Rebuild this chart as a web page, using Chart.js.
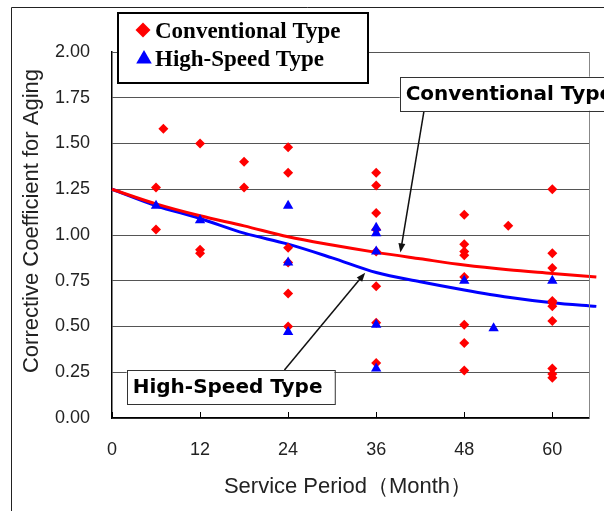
<!DOCTYPE html>
<html>
<head>
<meta charset="utf-8">
<script src="https://cdn.jsdelivr.net/npm/chart.js@4.4.1/dist/chart.umd.min.js"></script>
<style>
  html, body { margin: 0; padding: 0; background: #fff; }
  canvas { display: block; }
</style>
</head>
<body>
<canvas id="agingChart" width="604" height="511"></canvas>
<script>
const xTicks = [0, 12, 24, 36, 48, 60];
const yTicks = [0, 0.25, 0.5, 0.75, 1, 1.25, 1.5, 1.75, 2];

// measured points, conventional (red diamonds)
const convX = [6, 6, 7, 12, 12, 12, 18, 18,
  24, 24, 24, 24, 24, 24,
  36, 36, 36, 36, 36, 36, 36, 36,
  48, 48, 48, 48, 48, 48, 48, 48,
  54,
  60, 60, 60, 60, 60, 60, 60, 60, 60, 60];
const convY = [1.26, 1.03, 1.58, 1.50, 0.92, 0.90, 1.40, 1.26,
  1.48, 1.34, 0.93, 0.85, 0.68, 0.50,
  1.34, 1.27, 1.12, 1.03, 0.91, 0.72, 0.52, 0.30,
  1.11, 0.95, 0.91, 0.89, 0.77, 0.51, 0.41, 0.26,
  1.05,
  1.25, 0.90, 0.82, 0.64, 0.63, 0.61, 0.53, 0.27, 0.24, 0.22];

// high-speed (blue triangles)
const highX = [6, 12, 24, 24, 24, 36, 36, 36, 36, 36, 48, 52, 60];
const highY = [1.16, 1.08, 1.16, 0.85, 0.47, 1.04, 1.01, 0.91, 0.51, 0.27, 0.75, 0.49, 0.75];

// fitted curves
const curveX = [0, 6, 12, 18, 24, 30, 36, 42, 48, 54, 60, 66];
const convCurve = [1.25, 1.17, 1.105, 1.05, 0.99, 0.945, 0.905, 0.87, 0.836, 0.81, 0.79, 0.77];
const highCurve = [1.25, 1.16, 1.09, 1.01, 0.95, 0.875, 0.795, 0.745, 0.70, 0.66, 0.63, 0.61];

const seriesNames = ['Conventional Type', 'High-Speed Type'];
const xTitle = 'Service Period（Month）';
const yTitle = 'Corrective Coefficient for Aging';

// callout labels: box top-left, leader start, arrow tip (data units)
const callouts = [
  { text: 'Conventional Type', box: [39.2, 1.865], tail: [42.5, 1.674], head: [39.3, 0.905] },
  { text: 'High-Speed Type', box: [2.0, 0.262], tail: [23.5, 0.262], head: [34.5, 0.794] }
];

const RED = '#ff0000';
const BLUE = '#0000ff';

function toPoints(xs, ys) {
  return xs.map((x, i) => ({ x: x, y: ys[i] }));
}

function marker(ctx, style, radius, x, y, color) {
  ctx.save();
  ctx.fillStyle = color;
  ctx.strokeStyle = color;
  if (Chart.helpers && Chart.helpers.drawPoint) {
    Chart.helpers.drawPoint(ctx, { pointStyle: style, radius: radius, rotation: 0, borderWidth: 0 }, x, y);
  }
  ctx.restore();
}

function arrow(ctx, x1, y1, x2, y2) {
  const ang = Math.atan2(y2 - y1, x2 - x1);
  const len = 9, half = 3.5;
  ctx.beginPath();
  ctx.moveTo(x1, y1);
  ctx.lineTo(x2 - Math.cos(ang) * len * 0.8, y2 - Math.sin(ang) * len * 0.8);
  ctx.stroke();
  ctx.beginPath();
  ctx.moveTo(x2, y2);
  ctx.lineTo(x2 - Math.cos(ang) * len - Math.sin(ang) * half, y2 - Math.sin(ang) * len + Math.cos(ang) * half);
  ctx.lineTo(x2 - Math.cos(ang) * len + Math.sin(ang) * half, y2 - Math.sin(ang) * len - Math.cos(ang) * half);
  ctx.closePath();
  ctx.fill();
}

const decor = {
  id: 'decor',
  beforeDraw(chart) {
    const ctx = chart.ctx;
    ctx.save();
    ctx.fillStyle = '#fff';
    ctx.fillRect(0, 0, chart.width, chart.height);
    ctx.restore();
  },
  afterDraw(chart) {
    const ctx = chart.ctx;
    const area = chart.chartArea;
    const sx = chart.scales.x, sy = chart.scales.y;
    ctx.save();

    // outer frame (left + top)
    ctx.strokeStyle = '#222';
    ctx.lineWidth = 1;
    ctx.beginPath();
    ctx.moveTo(11.5, chart.height);
    ctx.lineTo(11.5, 7.5);
    ctx.lineTo(chart.width, 7.5);
    ctx.stroke();

    // right edge of plot
    ctx.strokeStyle = '#888';
    ctx.beginPath();
    ctx.moveTo(area.right + 0.5, area.top);
    ctx.lineTo(area.right + 0.5, area.bottom);
    ctx.stroke();

    // inward ticks on the x axis
    ctx.strokeStyle = '#000';
    xTicks.forEach(v => {
      const px = Math.round(sx.getPixelForValue(v)) + 0.5;
      ctx.beginPath();
      ctx.moveTo(px, area.bottom);
      ctx.lineTo(px, area.bottom - 6);
      ctx.stroke();
    });

    // legend box
    ctx.fillStyle = '#fff';
    ctx.fillRect(117, 12, 252, 72);
    ctx.strokeStyle = '#000';
    ctx.lineWidth = 2;
    ctx.strokeRect(118, 13, 250, 70);
    const ds = chart.data.datasets;
    marker(ctx, ds[0].pointStyle, 7.5, 143, 30, ds[0].backgroundColor);
    marker(ctx, ds[1].pointStyle, 9, 144, 59, ds[1].backgroundColor);
    ctx.fillStyle = '#000';
    ctx.font = 'bold 23px "Liberation Serif", serif';
    ctx.textBaseline = 'alphabetic';
    ctx.textAlign = 'left';
    ctx.fillText(seriesNames[0], 155, 37.5);
    ctx.fillText(seriesNames[1], 155, 65.5);

    // callouts
    ctx.font = 'bold 20px "DejaVu Sans", sans-serif';
    callouts.forEach(c => {
      const bx = sx.getPixelForValue(c.box[0]);
      const by = sy.getPixelForValue(c.box[1]);
      const w = ctx.measureText(c.text).width + 18;
      const h = 34;
      ctx.lineWidth = 1.5;
      ctx.strokeStyle = '#111';
      ctx.fillStyle = '#111';
      arrow(ctx, sx.getPixelForValue(c.tail[0]), sy.getPixelForValue(c.tail[1]),
        sx.getPixelForValue(c.head[0]), sy.getPixelForValue(c.head[1]));
      ctx.fillStyle = '#fff';
      ctx.fillRect(bx, by, w, h);
      ctx.lineWidth = 1;
      ctx.strokeStyle = '#333';
      ctx.strokeRect(Math.round(bx) + 0.5, Math.round(by) + 0.5, w, h);
      ctx.fillStyle = '#000';
      ctx.textBaseline = 'middle';
      ctx.fillText(c.text, bx + 6, by + h / 2 + 1);
    });

    // axis titles
    ctx.fillStyle = '#222';
    ctx.font = '22px "Liberation Sans", Arial, sans-serif';
    ctx.textAlign = 'center';
    ctx.textBaseline = 'middle';
    ctx.fillText(xTitle, 348, 487);
    ctx.translate(32, 221);
    ctx.rotate(-Math.PI / 2);
    ctx.fillText(yTitle, 0, 0);

    ctx.restore();
  }
};

new Chart(document.getElementById('agingChart').getContext('2d'), {
  type: 'scatter',
  data: {
    datasets: [
      {
        label: seriesNames[0],
        data: toPoints(convX, convY),
        pointStyle: 'rectRot', pointRadius: 5, pointHoverRadius: 5,
        backgroundColor: RED, borderColor: RED, borderWidth: 0,
        order: 2
      },
      {
        label: seriesNames[1],
        data: toPoints(highX, highY),
        pointStyle: 'triangle', pointRadius: 6, pointHoverRadius: 6,
        backgroundColor: BLUE, borderColor: BLUE, borderWidth: 0,
        order: 1
      },
      {
        type: 'line', label: 'conv fit',
        data: toPoints(curveX, convCurve),
        borderColor: RED, borderWidth: 3, pointRadius: 0,
        cubicInterpolationMode: 'monotone', fill: false, clip: false,
        order: 3
      },
      {
        type: 'line', label: 'high fit',
        data: toPoints(curveX, highCurve),
        borderColor: BLUE, borderWidth: 3, pointRadius: 0,
        cubicInterpolationMode: 'monotone', fill: false, clip: false,
        order: 4
      }
    ]
  },
  options: {
    responsive: false,
    animation: false,
    layout: { padding: { top: 52, right: 15, left: 0, bottom: 0 } },
    plugins: { legend: { display: false }, tooltip: { enabled: false } },
    scales: {
      x: {
        type: 'linear', min: 0, max: 65,
        afterBuildTicks: s => { s.ticks = xTicks.map(v => ({ value: v })); },
        afterFit: s => { s.height = 93; },
        grid: { display: false, drawTicks: false },
        border: { display: true, color: '#000', width: 1.5 },
        ticks: { padding: 21, color: '#222', font: { size: 18, family: '"Liberation Sans", Arial, sans-serif' } }
      },
      y: {
        type: 'linear', min: 0, max: 2,
        afterBuildTicks: s => { s.ticks = yTicks.map(v => ({ value: v })); },
        afterFit: s => { s.width = 112; },
        grid: { color: '#555', lineWidth: 1, drawTicks: false },
        border: { display: true, color: '#000', width: 1.5 },
        ticks: {
          padding: 22, color: '#222',
          font: { size: 18, family: '"Liberation Sans", Arial, sans-serif' },
          callback: v => v.toFixed(2)
        }
      }
    }
  },
  plugins: [decor]
});
</script>
</body>
</html>
